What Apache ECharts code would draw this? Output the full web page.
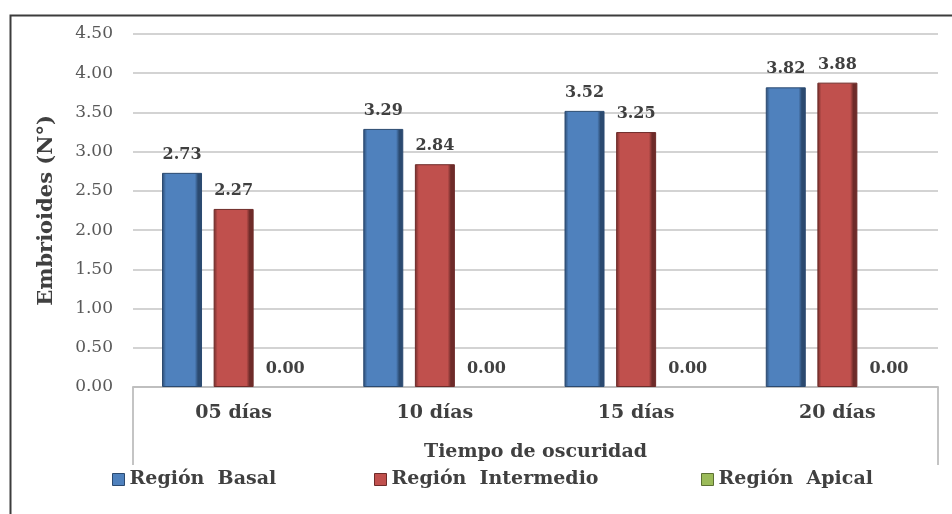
<!DOCTYPE html>
<html>
<head>
<meta charset="utf-8">
<script src="https://cdn.jsdelivr.net/npm/echarts@6/dist/echarts.min.js"></script>
<style>html,body{margin:0;padding:0;background:#fff;}#chart{width:952px;height:514px;}</style>
</head>
<body>
<div id="chart"></div>
<script>
const categories = ['05 días', '10 días', '15 días', '20 días'];
const seriesNames = ['Región  Basal', 'Región  Intermedio', 'Región  Apical'];
const basal = [2.73, 3.29, 3.52, 3.82];
const intermedio = [2.27, 2.84, 3.25, 3.88];
const apical = [0.00, 0.00, 0.00, 0.00];
const yTicks = [0, 0.5, 1, 1.5, 2, 2.5, 3, 3.5, 4, 4.5];

const FONT = '"DejaVu Serif", "Liberation Serif", serif';
const TXT = '#404040';

function bevel(main, dark) {
  return {
    type: 'linear', x: 0, y: 0, x2: 1, y2: 0,
    colorStops: [
      {offset: 0, color: dark},
      {offset: 0.1, color: main},
      {offset: 0.82, color: main},
      {offset: 0.9, color: dark},
      {offset: 1, color: dark}
    ]
  };
}
const palette = [
  {main: '#4f81bd', dark: '#2b4a70'},
  {main: '#c0504d', dark: '#6e2b29'},
  {main: '#9bbb59', dark: '#5c7033'}
];
const values = [basal, intermedio, apical];

const chart = echarts.init(document.getElementById('chart'));
const series = values.map((arr, i) => ({
  name: seriesNames[i],
  type: 'bar',
  data: arr,
  barWidth: 40,
  barGap: '29%',
  barCategoryGap: '29%',
  itemStyle: {
    color: bevel(palette[i].main, palette[i].dark),
    borderColor: palette[i].dark,
    borderWidth: i === 2 ? 0 : 1
  },
  label: {
    show: true,
    position: 'top',
    distance: 10,
    formatter: p => p.value.toFixed(2),
    fontFamily: FONT,
    fontWeight: 'bold',
    fontSize: 16,
    color: TXT
  }
}));

function legendAt(i, left) {
  return {
    data: [{name: seriesNames[i], icon: 'rect',
            itemStyle: {color: palette[i].main, borderColor: palette[i].dark, borderWidth: 1}}],
    left: left, top: 465,
    itemWidth: 12, itemHeight: 12, itemGap: 8,
    textStyle: {fontFamily: FONT, fontWeight: 'bold', fontSize: 19, color: TXT}
  };
}

chart.setOption({
  backgroundColor: '#fff',
  animation: false,
  grid: {left: 133, right: 14, top: 34, bottom: 127, containLabel: false},
  legend: [legendAt(0, 107), legendAt(1, 369), legendAt(2, 696)],
  xAxis: {
    type: 'category',
    data: categories,
    name: 'Tiempo de oscuridad',
    nameLocation: 'middle',
    nameGap: 56,
    nameTextStyle: {fontFamily: FONT, fontWeight: 'bold', fontSize: 19, color: TXT},
    axisLine: {show: true, lineStyle: {color: '#bfbfbf', width: 2}},
    axisTick: {show: false},
    axisLabel: {fontFamily: FONT, fontWeight: 'bold', fontSize: 19, color: TXT, margin: 17}
  },
  yAxis: {
    type: 'value',
    min: yTicks[0],
    max: yTicks[yTicks.length - 1],
    interval: 0.5,
    name: 'Embrioides (N°)',
    nameLocation: 'middle',
    nameGap: 76,
    nameTextStyle: {fontFamily: FONT, fontWeight: 'bold', fontSize: 21, color: TXT},
    axisLine: {show: false},
    axisTick: {show: false},
    splitLine: {show: true, lineStyle: {color: '#c4c4c4', width: 1.5}},
    axisLabel: {fontFamily: FONT, fontSize: 17, color: '#595959', margin: 20,
                formatter: v => v.toFixed(2)}
  },
  graphic: [
    {type: 'rect', left: 8, top: 13, shape: {width: 1000, height: 600},
     style: {fill: null, stroke: '#3c3c3c', lineWidth: 2}, silent: true, z: 100},
    {type: 'line', shape: {x1: 133, y1: 387, x2: 133, y2: 465},
     style: {stroke: '#c4c4c4', lineWidth: 2}, silent: true},
    {type: 'line', shape: {x1: 938, y1: 387, x2: 938, y2: 465},
     style: {stroke: '#c4c4c4', lineWidth: 2}, silent: true}
  ],
  series: series
});
</script>
</body>
</html>
